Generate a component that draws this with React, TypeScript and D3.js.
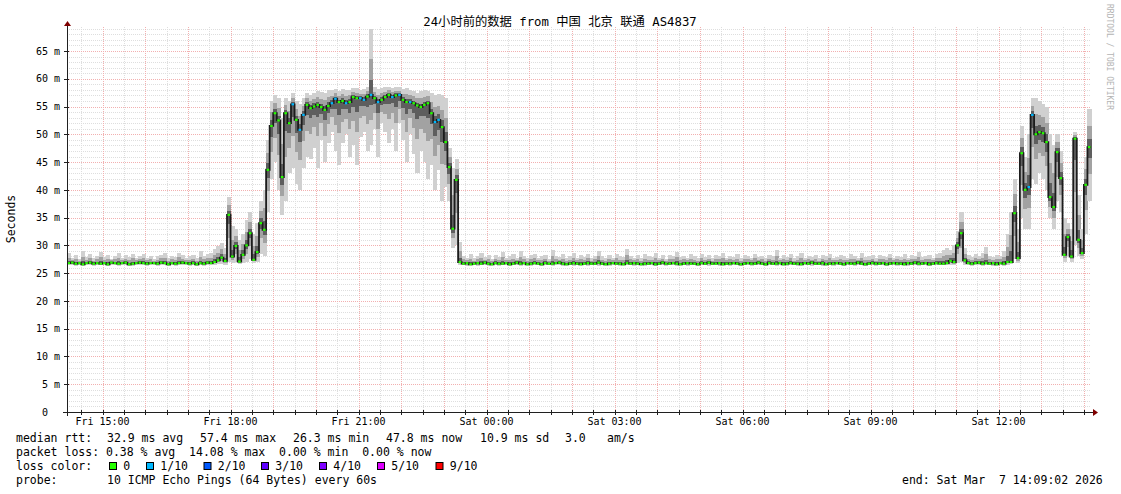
import React from 'react';
import * as d3 from 'd3';

// smokeping style latency graph, 24h, one sample every 5 minutes
const START = new Date(2026, 2, 6, 14, 10);
const STEP_MIN = 5;

// median rtt per sample (ms)
const median = [
  26.8, 26.9, 26.7, 26.8, 26.6, 26.8, 26.9, 26.7, 26.8, 26.7,
  26.8, 26.6, 26.9, 26.8, 26.7, 26.8, 26.9, 26.6, 26.7, 26.8,
  26.9, 26.8, 26.7, 26.8, 26.8, 26.7, 26.9, 26.8, 26.6, 26.8,
  26.7, 26.8, 26.9, 26.8, 26.7, 26.8, 26.6, 26.8, 26.7, 26.9,
  26.8, 27.0,
  27.3, 27.8, 27.2, 35.5, 28.0, 29.9, 27.1, 28.3, 30.0, 32.2, 27.4, 28.8, 34.0, 32.8,
  43.6, 51.5, 53.8, 52.5, 42.3, 53.8, 52.0, 55.4, 52.6, 50.8, 53.5, 55.3, 54.7, 55.0, 55.3,
  54.9, 54.4, 55.1, 55.6, 56.4, 55.8, 56.0, 55.6, 55.8, 56.7,
  56.5, 56.5, 56.2, 56.8, 57.1, 56.5, 55.8, 56.2, 56.7, 57.1,
  56.7, 57.0, 57.1, 56.2, 55.8, 55.8, 55.6, 55.2, 54.9, 55.3,
  55.6, 53.8, 52.2, 52.6, 51.3, 48.6, 44.1, 33.0, 41.8, 27.0,
  26.7, 26.8, 26.6, 26.7, 26.8, 26.7, 26.9, 26.7, 26.6, 26.8,
  26.7, 26.7, 26.8, 26.6, 26.7, 26.9, 26.7, 26.8, 26.6, 26.7,
  26.8, 26.7, 26.6, 26.8, 26.7, 26.7, 26.8, 26.9, 26.7, 26.6,
  26.7, 26.8, 26.7, 26.6, 26.7, 26.8, 26.7, 26.7, 26.9, 26.7,
  26.6, 26.7, 26.8, 26.7, 26.7, 26.6, 26.8, 26.7, 26.8, 26.7,
  26.6, 26.7, 26.7, 26.8, 26.6, 26.7, 26.9, 26.7, 26.7, 26.8,
  26.7, 26.6, 26.7, 26.8, 26.7, 26.7, 26.6, 26.8, 26.7, 26.9,
  26.7, 26.7, 26.8, 26.6, 26.7, 26.7, 26.8, 26.7, 26.6, 26.7,
  26.8, 26.7, 26.7, 26.9, 26.7, 26.6, 26.8, 26.7, 26.7, 26.8,
  26.6, 26.7, 26.8, 26.7, 26.7, 26.6, 26.8, 26.7, 26.9, 26.7,
  26.7, 26.8, 26.6, 26.7, 26.7, 26.8, 26.7, 26.6, 26.8, 26.7,
  26.7, 26.9, 26.7, 26.6, 26.7, 26.8, 26.7, 26.7, 26.8, 26.6,
  26.7, 26.8, 26.7, 26.7, 26.6, 26.8, 26.7, 26.9, 26.7, 26.7,
  26.8, 26.6, 26.7, 26.8, 26.7, 26.7,
  26.8, 27.2, 27.0, 30.0, 32.2, 27.3,
  26.8, 26.7, 26.8, 26.9, 26.7, 26.8, 26.7, 26.8, 26.6, 26.8, 26.7,
  27.0,
  27.0, 35.8, 27.7, 46.6, 40.0, 40.5, 53.5, 50.0, 50.4, 50.2, 48.6, 38.7,
  36.9, 46.8, 42.1, 28.3, 31.5, 28.0, 49.2, 31.0, 28.6, 40.9, 47.7,
];

// top of the smoke (slowest ping of the 10)
const smokeHigh = [
  28.6, 27.8, 28.2, 27.6, 28.9, 27.9, 28.4, 27.7, 28.0, 28.8,
  27.9, 28.3, 27.6, 28.1, 28.7, 27.8, 28.2, 27.9, 28.5, 27.7,
  28.0, 28.4, 27.8, 28.1, 27.6, 28.0, 28.3, 28.6, 27.8, 28.1,
  27.9, 28.7, 28.2, 27.8, 28.0, 28.3, 27.7, 28.9, 28.1, 28.4,
  28.6, 29.3,
  29.8, 30.5, 29.5, 38.8, 33.5, 33.0, 31.0, 32.0, 34.5, 36.0, 32.0, 34.0, 38.0, 40.0,
  49.0, 56.0, 57.0, 56.5, 53.0, 56.5, 56.0, 57.5, 56.0, 55.5, 56.5, 57.5, 57.0, 57.5, 57.8,
  57.6, 57.5, 58.0, 58.0, 58.2, 57.8, 58.2, 58.0, 58.0, 58.3,
  58.3, 58.0, 58.2, 58.5, 69.0, 58.5, 58.2, 58.3, 58.5, 58.6,
  58.4, 58.6, 58.5, 58.2, 58.3, 58.0, 57.8, 57.5, 57.8, 58.0,
  57.8, 57.5, 57.0, 57.2, 57.0, 56.5, 47.5, 44.0, 45.5, 30.6,
  28.1, 27.8, 28.4, 27.7, 28.0, 28.6, 27.9, 28.2, 27.6, 28.3,
  27.9, 28.8, 27.7, 28.1, 28.4, 27.8, 29.0, 28.0, 27.7, 28.2,
  28.5, 27.8, 28.0, 28.3, 27.6, 29.2, 28.1, 27.9, 28.4, 27.7,
  28.0, 28.6, 27.8, 28.2, 27.9, 28.4, 27.7, 28.1, 28.9, 28.0,
  27.8, 28.3, 27.7, 28.5, 28.0, 27.9, 29.4, 28.1, 27.8, 28.2,
  27.7, 28.4, 28.0, 27.9, 28.6, 27.8, 28.2, 27.6, 28.3, 28.0,
  28.8, 27.9, 28.1, 27.7, 28.4, 28.0, 27.8, 28.5, 27.9, 28.2,
  27.7, 28.3, 28.0, 28.7, 27.8, 28.1, 27.9, 28.4, 27.7, 28.2,
  28.0, 27.8, 28.5, 27.9, 28.1, 27.7, 28.3, 28.0, 29.1, 27.8,
  28.2, 27.9, 28.4, 27.7, 28.0, 28.6, 27.8, 28.1, 27.9, 28.3,
  27.7, 28.2, 28.0, 28.5, 27.8, 27.9, 28.3, 28.0, 27.7, 28.4,
  28.1, 27.8, 28.6, 27.9, 28.0, 28.2, 27.7, 28.3, 28.0, 27.9,
  28.5, 27.8, 28.1, 27.9, 28.4, 27.7, 28.2, 28.0, 28.8, 27.9,
  28.1, 28.3, 27.8, 28.5, 28.7, 29.2,
  29.5, 29.2, 30.0, 32.5, 36.0, 29.5,
  28.2, 27.9, 28.4, 28.0, 28.6, 29.7, 28.1, 27.9, 28.3, 28.0, 29.0,
  32.0,
  36.0, 42.0, 33.0, 51.5, 46.0, 50.0, 56.5, 56.5, 56.0, 55.5, 55.0, 50.0,
  48.0, 50.0, 47.0, 35.0, 34.0, 33.0, 50.5, 39.0, 33.0, 46.0, 54.5,
];

// bottom of the smoke (fastest ping of the 10)
const smokeLow = [
  26.4, 26.5, 26.3, 26.4, 26.3, 26.4, 26.5, 26.3, 26.4, 26.4,
  26.4, 26.3, 26.5, 26.4, 26.3, 26.4, 26.5, 26.3, 26.3, 26.4,
  26.5, 26.4, 26.3, 26.4, 26.4, 26.3, 26.5, 26.4, 26.3, 26.4,
  26.3, 26.4, 26.5, 26.4, 26.3, 26.4, 26.3, 26.4, 26.3, 26.5,
  26.4, 26.5,
  26.6, 26.7, 26.5, 27.0, 26.8, 27.0, 26.6, 26.8, 27.0, 27.5, 26.8, 27.0, 28.5, 28.0,
  36.0, 42.0, 45.0, 40.0, 35.5, 38.0, 43.0, 44.0, 41.0, 40.0, 44.0, 46.0, 45.5, 47.5, 44.0,
  49.0, 45.0, 48.5, 50.5, 47.0, 44.5, 48.5, 50.0, 46.0, 48.0,
  44.5, 49.5, 50.5, 47.0, 48.0, 51.0, 46.0, 52.0, 50.5, 48.5,
  51.0, 47.0, 52.0, 49.0, 45.0, 50.0, 46.5, 43.0, 47.0, 45.0,
  42.0, 44.5, 40.0, 43.5, 38.0, 40.5, 38.0, 29.5, 30.0, 26.5,
  26.4, 26.3, 26.4, 26.5, 26.3, 26.4, 26.4, 26.3, 26.5, 26.4,
  26.3, 26.4, 26.4, 26.3, 26.5, 26.4, 26.3, 26.4, 26.4, 26.3,
  26.4, 26.5, 26.3, 26.4, 26.4, 26.3, 26.4, 26.5, 26.3, 26.4,
  26.4, 26.3, 26.4, 26.4, 26.5, 26.3, 26.4, 26.4, 26.3, 26.4,
  26.5, 26.3, 26.4, 26.4, 26.3, 26.4, 26.5, 26.4, 26.3, 26.4,
  26.4, 26.3, 26.4, 26.5, 26.3, 26.4, 26.4, 26.3, 26.4, 26.5,
  26.3, 26.4, 26.4, 26.3, 26.5, 26.4, 26.3, 26.4, 26.4, 26.3,
  26.4, 26.5, 26.3, 26.4, 26.4, 26.3, 26.4, 26.5, 26.3, 26.4,
  26.4, 26.3, 26.4, 26.4, 26.5, 26.3, 26.4, 26.4, 26.3, 26.4,
  26.5, 26.3, 26.4, 26.4, 26.3, 26.4, 26.5, 26.4, 26.3, 26.4,
  26.4, 26.3, 26.4, 26.5, 26.3, 26.4, 26.4, 26.3, 26.4, 26.5,
  26.3, 26.4, 26.4, 26.3, 26.5, 26.4, 26.3, 26.4, 26.4, 26.3,
  26.4, 26.5, 26.3, 26.4, 26.4, 26.3, 26.4, 26.5, 26.3, 26.4,
  26.4, 26.3, 26.4, 26.4, 26.5, 26.4,
  26.4, 26.5, 26.4, 26.8, 27.0, 26.5,
  26.4, 26.3, 26.4, 26.4, 26.3, 26.4, 26.5, 26.3, 26.4, 26.4, 26.3,
  26.5,
  26.6, 27.5, 26.8, 35.0, 33.0, 33.0, 42.0, 41.0, 43.0, 42.0, 40.0, 35.0,
  33.0, 38.0, 36.0, 27.0, 28.0, 27.0, 30.0, 28.0, 27.5, 32.0, 38.0,
];

// samples where 1 of 10 pings was lost
const loss1of10 = [63, 65, 66, 74, 75, 78, 82, 83, 85, 87, 91, 93, 96, 103, 104, 270, 271];

const lossLabels = ['0', '1/10', '2/10', '3/10', '4/10', '5/10', '9/10'];
const lossColors = ['#26ff00', '#00b8ff', '#0059ff', '#5e00ff', '#7e00ff', '#dd00ff', '#ff0000'];
const lossBoxX = [109, 146, 203.5, 261, 319, 377, 435.5];

const rttLabels = ['median rtt:', '32.9 ms avg', '57.4 ms max', '26.3 ms min', '47.8 ms now', '10.9 ms sd', '3.0', 'am/s'];
const rttX = [16, 107, 200, 293, 386, 480, 565, 607];

const MONO = "'DejaVu Sans Mono', monospace";

export default function App() {
  const W = 1121;
  const H = 494;
  // plot area
  const x0 = 67;
  const x1 = 1091;
  const yTop = 27;
  const yBot = 412;

  const t = (i: number) => d3.timeMinute.offset(START, i * STEP_MIN);
  const end = t(median.length);
  const x = d3.scaleTime().domain([START, end]).range([x0, x1]);
  const y = d3.scaleLinear().domain([0, 69.32]).range([yBot, yTop]);
  const lossSet = new Set(loss1of10);

  const minorY = d3.range(1, 70).filter((v) => v % 5 !== 0);
  const majorY = d3.range(5, 70, 5);
  const gridTimes = d3.timeMinute.every(30)!.range(START, end);
  const labelTimes = d3.timeHour.every(3)!.range(START, end);
  const fmt = d3.timeFormat('%a %H:%M');

  const stepLine = d3
    .line<number>()
    .x((_, i) => x(t(i)))
    .y((d) => y(d))
    .curve(d3.curveStepAfter);

  return (
    <>
      <style>{'body{margin:0}'}</style>
      <svg width={W} height={H} style={{ display: 'block', background: '#fff' }}>
        {/* grid */}
        <g strokeDasharray="1,1" strokeWidth={1}>
          {minorY.map((v) => (
            <line key={'mh' + v} x1={x0} x2={x1} y1={Math.round(y(v)) + 0.5} y2={Math.round(y(v)) + 0.5} stroke="#dedede" />
          ))}
          {gridTimes
            .filter((d) => d.getMinutes() !== 0)
            .map((d) => (
              <line key={'mv' + +d} x1={Math.round(x(d)) + 0.5} x2={Math.round(x(d)) + 0.5} y1={yTop} y2={yBot} stroke="#dedede" />
            ))}
          {majorY.map((v) => (
            <line key={'Mh' + v} x1={x0} x2={x1} y1={Math.round(y(v)) + 0.5} y2={Math.round(y(v)) + 0.5} stroke="#f2b0b0" />
          ))}
          {gridTimes
            .filter((d) => d.getMinutes() === 0)
            .map((d) => (
              <line key={'Mv' + +d} x1={Math.round(x(d)) + 0.5} x2={Math.round(x(d)) + 0.5} y1={yTop} y2={yBot} stroke="#f2b0b0" />
            ))}
        </g>

        {/* smoke */}
        <g shapeRendering="crispEdges">
          {median.map((m, i) => {
            const xa = x(t(i));
            const w = x(t(i + 1)) - xa + 0.5;
            const hi = smokeHigh[i];
            const lo = smokeLow[i];
            const bands = [
              [hi, lo, '#d0d0d0'],
              [m + (hi - m) * 0.55, m - (m - lo) * 0.5, '#a2a2a2'],
              [m + (hi - m) * 0.22, m - (m - lo) * 0.2, '#5e5e5e'],
            ] as [number, number, string][];
            return (
              <g key={i}>
                {bands.map(([a, b, c], k) => (
                  <rect key={k} x={xa} width={w} y={y(a)} height={Math.max(0, y(b) - y(a))} fill={c} />
                ))}
              </g>
            );
          })}
        </g>

        {/* median */}
        <path d={stepLine([...median, median[median.length - 1]]) || ''} fill="none" stroke="#1c1c1c" strokeWidth={1.8} />
        {median.map((m, i) => (
          <line
            key={'md' + i}
            x1={x(t(i)) + 0.5}
            x2={x(t(i + 1)) - 0.5}
            y1={y(m)}
            y2={y(m)}
            stroke={lossSet.has(i) ? lossColors[1] : lossColors[0]}
            strokeWidth={2.2}
          />
        ))}

        {/* axes */}
        <line x1={63} x2={1094} y1={yBot + 0.5} y2={yBot + 0.5} stroke="#202020" />
        <line x1={x0 + 0.5} x2={x0 + 0.5} y1={416} y2={24} stroke="#202020" />
        <path d="M1093,409 L1098,412.5 L1093,416 Z" fill="#7f0000" />
        <path d="M64,26 L67.5,21 L71,26 Z" fill="#7f0000" />
        {gridTimes.map((d) => (
          <line
            key={'tk' + +d}
            x1={Math.round(x(d)) + 0.5}
            x2={Math.round(x(d)) + 0.5}
            y1={yBot - 2}
            y2={yBot + 3}
            stroke="#202020"
          />
        ))}
        {d3.range(0, 70, 5).map((v) => (
          <line key={'yt' + v} x1={x0 - 3} x2={x0 + 2} y1={Math.round(y(v)) + 0.5} y2={Math.round(y(v)) + 0.5} stroke="#202020" />
        ))}

        {/* tick labels */}
        <g fontFamily={MONO} fontSize={10} fill="#000">
          {d3.range(0, 70, 5).map((v) => (
            <g key={'yl' + v}>
              <text x={48} y={y(v) + 3.7} textAnchor="end">
                {v}
              </text>
              {v > 0 && (
                <text x={54} y={y(v) + 3.7}>
                  m
                </text>
              )}
            </g>
          ))}
          {labelTimes.map((d) => (
            <text key={'xl' + +d} x={x(d)} y={425} textAnchor="middle">
              {fmt(d)}
            </text>
          ))}
        </g>

        {/* title and side labels */}
        <text
          x={560}
          y={25.5}
          textAnchor="middle"
          fontFamily="'DejaVu Sans Mono', 'Noto Sans CJK SC', monospace"
          fontSize={12.3}
        >
          24小时前的数据 from 中国 北京 联通 AS4837
        </text>
        <text
          transform="translate(14.5,219) rotate(-90)"
          textAnchor="middle"
          fontFamily={MONO}
          fontSize={11.5}
        >
          Seconds
        </text>
        <text transform="translate(1107,4) rotate(90)" fontFamily={MONO} fontSize={8} fill="#b4b4b4">
          RRDTOOL / TOBI OETIKER
        </text>

        {/* legend */}
        <g fontFamily={MONO} fontSize={11.5} fill="#000">
          {rttLabels.map((s, i) => (
            <text key={'r' + i} x={rttX[i]} y={442}>
              {s}
            </text>
          ))}
          <text x={16} y={456} xmlSpace="preserve">
            {'packet loss: 0.38 % avg  14.08 % max  0.00 % min  0.00 % now'}
          </text>
          <text x={16} y={470}>
            loss color:
          </text>
          {lossLabels.map((s, i) => (
            <g key={'l' + i}>
              <rect x={lossBoxX[i] + 0.5} y={462.5} width={7} height={7} fill={lossColors[i]} stroke="#000" strokeWidth={1} />
              <text x={lossBoxX[i] + 14.3} y={470}>
                {s}
              </text>
            </g>
          ))}
          <text x={16} y={484}>
            probe:
          </text>
          <text x={107} y={484}>
            10 ICMP Echo Pings (64 Bytes) every 60s
          </text>
          <text x={902} y={484} xmlSpace="preserve">
            {'end: Sat Mar  7 14:09:02 2026'}
          </text>
        </g>
      </svg>
    </>
  );
}
